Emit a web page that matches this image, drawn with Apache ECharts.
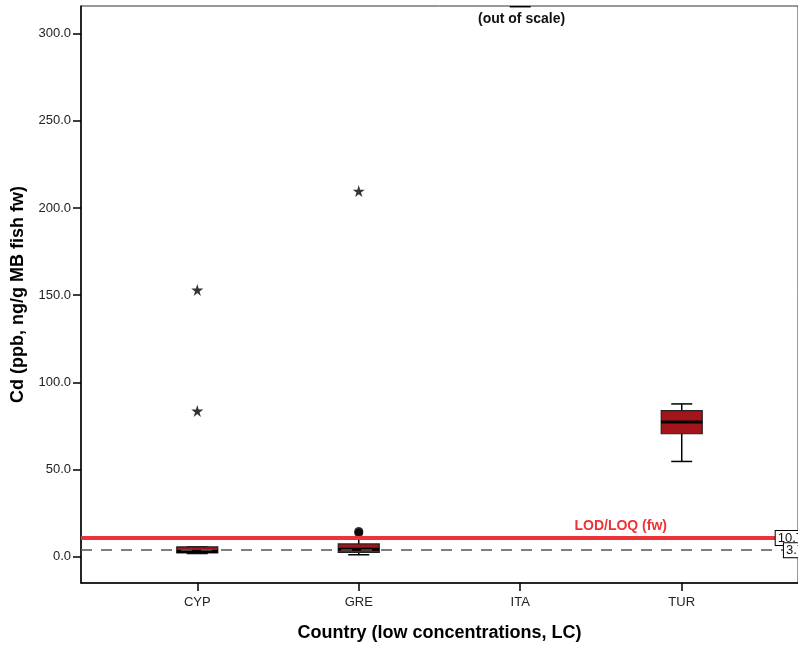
<!DOCTYPE html>
<html>
<head>
<meta charset="utf-8">
<script src="https://cdn.jsdelivr.net/npm/echarts@6/dist/echarts.min.js"></script>
<style>
  html, body { margin: 0; padding: 0; background: #fff; }
  #chart { width: 798px; height: 648px; }
</style>
</head>
<body>
<div id="chart"></div>
<script>
// categories
var countries = ['CYP', 'GRE', 'ITA', 'TUR']
// box values per country: [min, Q1, median, Q3, max]
var boxCYP = [1.8, 2.1, 3.0, 5.6, 5.6]
var boxGRE = [1.1, 2.5, 4.2, 7.3, 10.5]
var boxITA = [315.4, 360, 420, 480, 560]   // out of scale
var boxTUR = [54.6, 70.5, 77.2, 83.8, 87.6]
// outliers: [country index, value]
var extremes = [[0, 153.0], [0, 83.6], [1, 209.7]]   // stars
var outliers = [[1, 14.5], [1, 13.6]]                // circles
// reference lines
var lodLoq = 10.7
var lowLine = 3.7
// tick labels
var yTicks = [0, 50, 100, 150, 200, 250, 300]
var xTicks = [0, 1, 2, 3]

var boxes = [boxCYP, boxGRE, boxITA, boxTUR]
var boxData = boxes.map(function (b, i) { return [i].concat(b) })

var font = 'Liberation Sans, Arial, sans-serif'
var starPath = 'path://M50,0 L61,35 L98,35 L68,57 L79,91 L50,70 L21,91 L32,57 L2,35 L39,35 Z'

function renderBox (params, api) {
  var x = api.value(0)
  var lo = api.coord([x, api.value(1)])
  var q1 = api.coord([x, api.value(2)])
  var med = api.coord([x, api.value(3)])
  var q3 = api.coord([x, api.value(4)])
  var hi = api.coord([x, api.value(5)])
  var cx = lo[0]
  var bw = 41
  var cw = 21
  var ls = { stroke: '#000', lineWidth: 1.5 }
  return {
    type: 'group',
    children: [
      { type: 'line', shape: { x1: cx, y1: lo[1], x2: cx, y2: q1[1] }, style: ls },
      { type: 'line', shape: { x1: cx, y1: q3[1], x2: cx, y2: hi[1] }, style: ls },
      { type: 'line', shape: { x1: cx - cw / 2, y1: lo[1], x2: cx + cw / 2, y2: lo[1] }, style: ls },
      { type: 'line', shape: { x1: cx - cw / 2, y1: hi[1], x2: cx + cw / 2, y2: hi[1] }, style: ls },
      { type: 'rect', shape: { x: cx - bw / 2, y: q3[1], width: bw, height: q1[1] - q3[1] },
        style: { fill: '#a3151b', stroke: '#222', lineWidth: 1.2 } },
      { type: 'line', shape: { x1: cx - bw / 2, y1: med[1], x2: cx + bw / 2, y2: med[1] },
        style: { stroke: '#000', lineWidth: 3 } }
    ]
  }
}

var chart = echarts.init(document.getElementById('chart'), null, { renderer: 'canvas' })

chart.setOption({
  animation: false,
  backgroundColor: '#fff',
  grid: {
    left: 81, top: 6, width: 723, bottom: 65,
    show: true, borderColor: '#333', borderWidth: 1
  },
  xAxis: {
    type: 'value',
    min: -0.72,
    max: 3.72,
    splitLine: { show: false },
    axisLine: { show: true, onZero: false, lineStyle: { color: '#000', width: 1.5 } },
    axisTick: { show: true, customValues: xTicks, length: 8, lineStyle: { color: '#000', width: 1.5 } },
    axisLabel: {
      customValues: xTicks, margin: 13, color: '#222', fontSize: 13, fontFamily: font,
      formatter: function (v) { return countries[Math.round(v)] }
    },
    name: 'Country (low concentrations, LC)',
    nameLocation: 'middle',
    nameGap: 41,
    nameTextStyle: { color: '#000', fontSize: 18, fontWeight: 'bold', fontFamily: font }
  },
  yAxis: {
    type: 'value',
    min: -15.1,
    max: 315.8,
    splitLine: { show: false },
    axisLine: { show: true, onZero: false, lineStyle: { color: '#000', width: 1.5 } },
    axisTick: { show: true, customValues: yTicks, length: 8, lineStyle: { color: '#000', width: 1.5 } },
    axisLabel: {
      customValues: yTicks, margin: 10, color: '#222', fontSize: 13, fontFamily: font,
      formatter: function (v) { return v.toFixed(1) }
    },
    name: 'Cd (ppb, ng/g MB fish fw)',
    nameLocation: 'middle',
    nameGap: 54,
    nameTextStyle: { color: '#000', fontSize: 18, fontWeight: 'bold', fontFamily: font }
  },
  graphic: [
    { type: 'text', left: 478, top: 12,
      style: { text: '(out of scale)', fill: '#111', font: 'bold 14px ' + font } }
  ],
  series: [
    {
      type: 'line',
      data: [],
      silent: true,
      z: 1,
      markLine: {
        symbol: 'none',
        silent: true,
        data: [
          { yAxis: lodLoq, lineStyle: { color: '#ee3338', width: 4, type: 'solid' },
            label: { show: true, position: 'insideEndTop', distance: [131, 5], formatter: 'LOD/LOQ (fw)',
              color: '#ee3338', fontSize: 14, fontWeight: 'bold', fontFamily: font } },
          { yAxis: lodLoq, lineStyle: { color: '#ee3338', width: 4, type: 'solid' },
            label: { show: true, position: 'insideEnd', distance: -7, formatter: String(lodLoq),
              color: '#111', fontSize: 13, fontFamily: font, backgroundColor: '#fff',
              borderColor: '#000', borderWidth: 1, padding: [1, 2, 0, 2] } },
          { yAxis: lowLine, lineStyle: { color: '#555', width: 1.5, type: [11, 9] },
            label: { show: true, position: 'insideEnd', distance: -8, formatter: String(lowLine),
              color: '#111', fontSize: 13, fontFamily: font, backgroundColor: '#fff',
              borderColor: '#000', borderWidth: 1, padding: [1, 2, 0, 2] } }
        ]
      }
    },
    {
      type: 'custom',
      renderItem: renderBox,
      data: boxData,
      encode: { x: 0, y: [1, 2, 3, 4, 5] },
      clip: true,
      z: 3
    },
    {
      type: 'scatter',
      data: extremes,
      symbol: starPath,
      symbolSize: 12,
      itemStyle: { color: '#000' },
      z: 4
    },
    {
      type: 'scatter',
      data: outliers,
      symbol: 'circle',
      symbolSize: 9,
      itemStyle: { color: '#000' },
      z: 4
    }
  ]
})
</script>
</body>
</html>
